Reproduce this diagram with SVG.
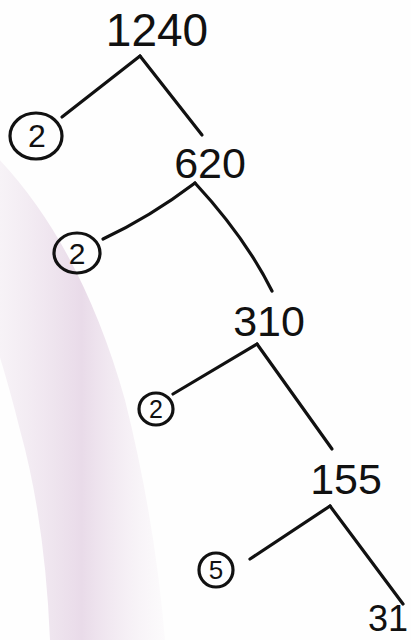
<svg xmlns="http://www.w3.org/2000/svg" width="411" height="640" viewBox="0 0 411 640">
<style>
.num{font-family:"Liberation Sans",Arial,sans-serif;fill:#111;text-anchor:middle}
.big{font-size:46px}
.mid{font-size:43px}
.small{font-size:32px}
.ring{fill:none;stroke:#111;stroke-width:3.2}
.edge{fill:none;stroke:#111;stroke-width:3.2;stroke-linecap:round;stroke-linejoin:round}
</style>
<defs>
<linearGradient id="band" x1="0" y1="0" x2="1" y2="0">
<stop offset="0" stop-color="#efe6ef" stop-opacity="0.3"/>
<stop offset="0.55" stop-color="#e9dbe9" stop-opacity="1"/>
<stop offset="1" stop-color="#f3ecf3" stop-opacity="0.2"/>
</linearGradient>
</defs>
<rect width="411" height="640" fill="#fefefe"/>
<path d="M-10,150 Q80,240 125,400 Q155,520 165,640 L50,640 Q45,520 20,430 Q0,350 -20,300 Z" fill="url(#band)"/>
<g id="connectors">
<path class="edge" d="M140,56 L62,117"/>
<path class="edge" d="M140,56 L202,135"/>
<path class="edge" d="M195,183 Q150,217 103,239"/>
<path class="edge" d="M195,183 Q245,237 272,291"/>
<path class="edge" d="M257,344 L173,394"/>
<path class="edge" d="M257,344 L332,449"/>
<path class="edge" d="M330,506 L250,559"/>
<path class="edge" d="M330,506 L403,604"/>
</g>
<g id="n1240"><text class="num big" x="157" y="46">1240</text></g>
<g id="n2a"><ellipse class="ring" cx="36" cy="136" rx="26" ry="23"/><text class="num small" x="37" y="147">2</text></g>
<g id="n620"><text class="num mid" x="210" y="178">620</text></g>
<g id="n2b"><ellipse class="ring" cx="77" cy="253" rx="23" ry="20"/><text class="num small" x="77" y="264" style="font-size:30px">2</text></g>
<g id="n310"><text class="num mid" x="269" y="336">310</text></g>
<g id="n2c"><ellipse class="ring" cx="156" cy="409" rx="17" ry="16"/><text class="num small" x="156" y="418" style="font-size:25px">2</text></g>
<g id="n155"><text class="num mid" x="346" y="494">155</text></g>
<g id="n5"><ellipse class="ring" cx="216" cy="570" rx="17" ry="17"/><text class="num small" x="216" y="579" style="font-size:26px">5</text></g>
<g id="n31"><text class="num" x="408" y="631" style="font-size:36px;text-anchor:end">31</text></g>
</svg>
